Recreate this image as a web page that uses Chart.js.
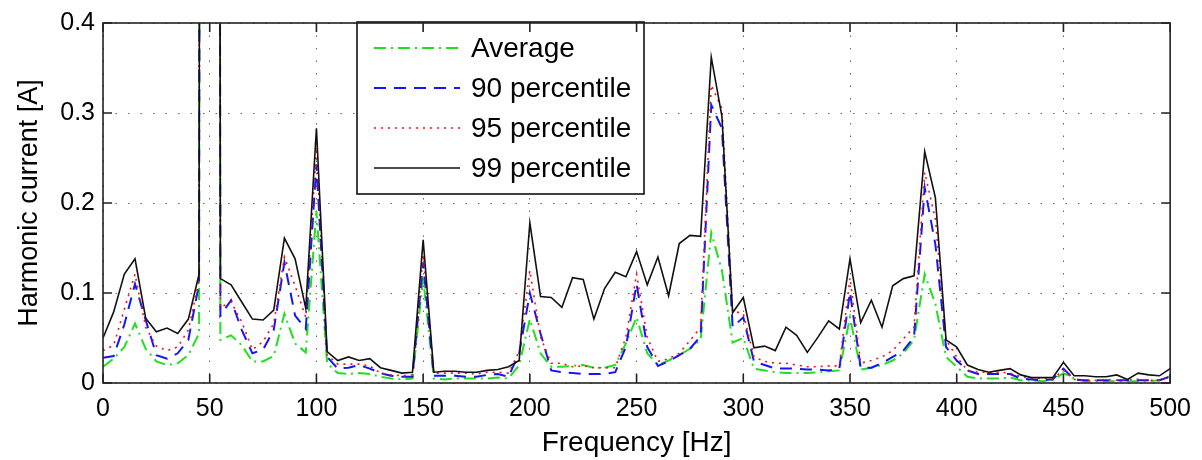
<!DOCTYPE html>
<html>
<head>
<meta charset="utf-8">
<script src="https://cdn.jsdelivr.net/npm/chart.js@4.4.1/dist/chart.umd.min.js"></script>
<style>
  html, body { margin: 0; padding: 0; background: #fff; }
  #wrap { width: 1202px; height: 460px; position: relative; }
</style>
</head>
<body>
<div id="wrap"><canvas id="chart"></canvas></div>
<script>
// frequencia en Hz (pasos de 5 Hz)
const freq = [
    0, 5, 10, 15, 20, 25, 30, 35, 40, 45,
    50, 55, 60, 65, 70, 75, 80, 85, 90, 95,
    100, 105, 110, 115, 120, 125, 130, 135, 140, 145,
    150, 155, 160, 165, 170, 175, 180, 185, 190, 195,
    200, 205, 210, 215, 220, 225, 230, 235, 240, 245,
    250, 255, 260, 265, 270, 275, 280, 285, 290, 295,
    300, 305, 310, 315, 320, 325, 330, 335, 340, 345,
    350, 355, 360, 365, 370, 375, 380, 385, 390, 395,
    400, 405, 410, 415, 420, 425, 430, 435, 440, 445,
    450, 455, 460, 465, 470, 475, 480, 485, 490, 495,
    500
]

// 50 Hz se sale de la escala (fundamental)
const average = [
    0.018, 0.027, 0.040, 0.066, 0.038, 0.024, 0.020, 0.022, 0.031, 0.055,
    10, 0.048, 0.053, 0.042, 0.024, 0.024, 0.030, 0.077, 0.044, 0.034,
    0.191, 0.022, 0.011, 0.010, 0.011, 0.010, 0.007, 0.005, 0.004, 0.005,
    0.117, 0.005, 0.004, 0.005, 0.005, 0.005, 0.005, 0.006, 0.005, 0.020,
    0.071, 0.033, 0.018, 0.018, 0.019, 0.020, 0.017, 0.017, 0.020, 0.044,
    0.073, 0.033, 0.020, 0.025, 0.031, 0.038, 0.048, 0.167, 0.125, 0.045,
    0.050, 0.016, 0.014, 0.012, 0.011, 0.011, 0.011, 0.012, 0.013, 0.014,
    0.073, 0.015, 0.017, 0.020, 0.025, 0.033, 0.048, 0.121, 0.088, 0.029,
    0.018, 0.007, 0.005, 0.005, 0.005, 0.006, 0.003, 0.003, 0.002, 0.003,
    0.011, 0.005, 0.002, 0.002, 0.002, 0.002, 0.002, 0.002, 0.002, 0.003,
    0.008
]
const p90 = [
    0.028, 0.030, 0.065, 0.110, 0.070, 0.031, 0.027, 0.033, 0.048, 0.110,
    10, 0.075, 0.092, 0.059, 0.033, 0.037, 0.059, 0.134, 0.075, 0.060,
    0.243, 0.029, 0.016, 0.017, 0.020, 0.016, 0.011, 0.008, 0.007, 0.007,
    0.134, 0.008, 0.008, 0.008, 0.007, 0.007, 0.009, 0.010, 0.007, 0.033,
    0.100, 0.055, 0.014, 0.012, 0.011, 0.010, 0.010, 0.010, 0.012, 0.040,
    0.110, 0.040, 0.019, 0.024, 0.031, 0.038, 0.052, 0.309, 0.283, 0.062,
    0.073, 0.024, 0.020, 0.016, 0.016, 0.016, 0.015, 0.015, 0.014, 0.016,
    0.101, 0.017, 0.017, 0.022, 0.029, 0.036, 0.051, 0.217, 0.154, 0.040,
    0.025, 0.014, 0.010, 0.010, 0.010, 0.010, 0.005, 0.004, 0.003, 0.004,
    0.016, 0.004, 0.003, 0.003, 0.003, 0.003, 0.003, 0.003, 0.003, 0.003,
    0.007
]
const p95 = [
    0.036, 0.042, 0.082, 0.121, 0.062, 0.041, 0.036, 0.040, 0.059, 0.114,
    10, 0.084, 0.090, 0.068, 0.037, 0.046, 0.066, 0.140, 0.108, 0.073,
    0.261, 0.031, 0.021, 0.021, 0.021, 0.019, 0.011, 0.009, 0.008, 0.009,
    0.143, 0.011, 0.011, 0.011, 0.011, 0.010, 0.012, 0.012, 0.011, 0.035,
    0.125, 0.051, 0.022, 0.022, 0.018, 0.019, 0.017, 0.017, 0.017, 0.051,
    0.121, 0.051, 0.024, 0.027, 0.033, 0.047, 0.062, 0.331, 0.305, 0.080,
    0.077, 0.029, 0.024, 0.022, 0.022, 0.020, 0.018, 0.018, 0.019, 0.019,
    0.117, 0.022, 0.025, 0.029, 0.036, 0.049, 0.062, 0.234, 0.182, 0.048,
    0.029, 0.014, 0.012, 0.012, 0.012, 0.011, 0.007, 0.005, 0.005, 0.005,
    0.014, 0.004, 0.003, 0.003, 0.004, 0.003, 0.004, 0.004, 0.003, 0.003,
    0.008
]
const p99 = [
    0.050, 0.079, 0.121, 0.138, 0.072, 0.057, 0.061, 0.055, 0.071, 0.121,
    10, 0.116, 0.109, 0.090, 0.071, 0.070, 0.081, 0.161, 0.138, 0.083,
    0.283, 0.035, 0.025, 0.029, 0.025, 0.027, 0.017, 0.014, 0.011, 0.012,
    0.159, 0.012, 0.013, 0.013, 0.012, 0.012, 0.014, 0.015, 0.018, 0.025,
    0.178, 0.096, 0.095, 0.084, 0.117, 0.115, 0.071, 0.105, 0.123, 0.118,
    0.146, 0.109, 0.140, 0.097, 0.155, 0.164, 0.163, 0.362, 0.296, 0.078,
    0.095, 0.039, 0.041, 0.036, 0.062, 0.053, 0.034, 0.051, 0.069, 0.060,
    0.138, 0.067, 0.092, 0.062, 0.108, 0.116, 0.119, 0.257, 0.206, 0.048,
    0.040, 0.020, 0.015, 0.012, 0.014, 0.016, 0.009, 0.006, 0.006, 0.006,
    0.023, 0.008, 0.008, 0.007, 0.007, 0.009, 0.004, 0.011, 0.009, 0.008,
    0.016
]

const FONT = "'Liberation Sans', Arial, Helvetica, sans-serif"

const toPoints = (arr) => arr.map((v, i) => ({ x: freq[i], y: v }))

const data = {
    datasets: [{
        label: 'Average',
        data: toPoints(average),
        borderColor: '#1ee01e',
        backgroundColor: '#1ee01e',
        borderWidth: 2,
        borderDash: [12, 5, 2, 5],
        order: 3
    }, {
        label: '90 percentile',
        data: toPoints(p90),
        borderColor: '#1616f5',
        backgroundColor: '#1616f5',
        borderWidth: 2,
        borderDash: [12, 8],
        order: 2
    }, {
        label: '95 percentile',
        data: toPoints(p95),
        borderColor: '#ff1010',
        backgroundColor: '#ff1010',
        borderWidth: 1.6,
        borderDash: [2, 5],
        order: 1
    }, {
        label: '99 percentile',
        data: toPoints(p99),
        borderColor: '#111111',
        backgroundColor: '#111111',
        borderWidth: 1.6,
        order: 0
    }]
}

// leyenda dentro del area del grafico (caja blanca, muestras con su trazo)
const legendBox = {
    id: 'legendBox',
    beforeDatasetsDraw(chart) {
        const { ctx } = chart
        ctx.save()
        ctx.fillStyle = '#fff'
        ctx.fillRect(357, 22, 287, 172)
        ctx.lineWidth = 1.6
        ctx.strokeStyle = '#111'
        ctx.strokeRect(357, 22, 287, 172)
        ctx.font = '28px ' + FONT
        ctx.textBaseline = 'middle'
        chart.data.datasets.forEach((ds, i) => {
            const cy = 48 + i * 40
            ctx.beginPath()
            ctx.setLineDash(ds.borderDash || [])
            ctx.strokeStyle = ds.borderColor
            ctx.lineWidth = ds.borderWidth
            ctx.moveTo(374, cy)
            ctx.lineTo(460, cy)
            ctx.stroke()
            ctx.setLineDash([])
            ctx.fillStyle = '#000'
            ctx.fillText(ds.label, 471, cy + 1)
        })
        ctx.restore()
    }
}

// marco y marcas hacia adentro (estilo matlab)
const frame = {
    id: 'frame',
    afterDraw(chart) {
        const { ctx, chartArea: { left, right, top, bottom }, scales: { x, y } } = chart
        ctx.save()
        ctx.strokeStyle = '#222'
        ctx.lineWidth = 1.6
        ctx.strokeRect(left, top, right - left, bottom - top)
        ctx.beginPath()
        x.ticks.forEach(t => {
            const px = x.getPixelForValue(t.value)
            ctx.moveTo(px, bottom); ctx.lineTo(px, bottom - 9)
            ctx.moveTo(px, top); ctx.lineTo(px, top + 9)
        })
        y.ticks.forEach(t => {
            const py = y.getPixelForValue(t.value)
            ctx.moveTo(left, py); ctx.lineTo(left + 9, py)
            ctx.moveTo(right, py); ctx.lineTo(right - 9, py)
        })
        ctx.stroke()
        ctx.restore()
    }
}

const gridOpts = {
    color: 'rgba(0,0,0,0.6)',
    lineWidth: 1,
    drawTicks: false
}

const config = {
    type: 'line',
    data,
    options: {
        responsive: true,
        maintainAspectRatio: false,
        animation: false,
        devicePixelRatio: 1,
        layout: {
            padding: { top: 21, right: 23, left: 0, bottom: 0 }
        },
        elements: {
            point: { radius: 0 },
            line: { tension: 0 }
        },
        scales: {
            x: {
                type: 'linear',
                min: 0,
                max: 500,
                ticks: {
                    stepSize: 50,
                    padding: 11,
                    color: '#000',
                    font: { family: FONT, size: 25 },
                    maxRotation: 0
                },
                grid: gridOpts,
                border: { display: false, dash: [1.5, 11] },
                title: {
                    display: true,
                    text: 'Frequency [Hz]',
                    color: '#000',
                    font: { family: FONT, size: 28 },
                    padding: { top: 0, bottom: 0 }
                },
                afterFit(scale) { scale.height = 77 }
            },
            y: {
                min: 0,
                max: 0.4,
                ticks: {
                    stepSize: 0.1,
                    padding: 8,
                    color: '#000',
                    font: { family: FONT, size: 25 }
                },
                grid: gridOpts,
                border: { display: false, dash: [1.5, 11] },
                title: {
                    display: true,
                    text: 'Harmonic current [A]',
                    color: '#000',
                    font: { family: FONT, size: 27 },
                    padding: { top: 13, bottom: 0 }
                },
                afterFit(scale) { scale.width = 103 }
            }
        },
        plugins: {
            legend: { display: false },
            tooltip: { enabled: false }
        }
    },
    plugins: [legendBox, frame]
}

var chart = document.getElementById('chart')
var myChart = new Chart(chart, config)
</script>
</body>
</html>
